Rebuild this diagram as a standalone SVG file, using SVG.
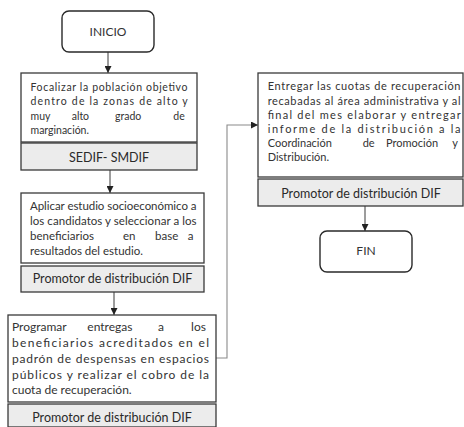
<svg xmlns="http://www.w3.org/2000/svg" width="464" height="427" viewBox="0 0 464 427">
<defs>
<style>
.bg{fill:#ffffff}
.box{fill:#ffffff;stroke:#3a3a3a;stroke-width:1.3}
.lab{fill:#ececec;stroke:#3a3a3a;stroke-width:1.3}
.term{fill:#ffffff;stroke:#2a2a2a;stroke-width:1.4}
.t{font-family:Lato,"Liberation Sans",sans-serif;fill:#333333}
.lt{font-family:Lato,"Liberation Sans",sans-serif;fill:#2a2a2a;font-size:12.5px;text-anchor:middle}
.c{fill:none;stroke:#3a3a3a;stroke-width:1}
.cg{fill:none;stroke:#8a8a8a;stroke-width:1.1}
</style>
<marker id="ah" viewBox="0 0 8 8" refX="8" refY="4" markerWidth="7" markerHeight="7" markerUnits="userSpaceOnUse" orient="auto">
<path d="M0,0 L8,4 L0,8 Z" fill="#222222"/>
</marker>
</defs>
<rect class="bg" x="0" y="0" width="464" height="427"/>

<g id="connectors">
<path class="c" d="M108,52 V73" marker-end="url(#ah)"/>
<path class="c" d="M110,170 V193" marker-end="url(#ah)"/>
<path class="c" d="M114,292 V315" marker-end="url(#ah)"/>
<path class="c" d="M365,206 V231" marker-end="url(#ah)"/>
<path class="cg" d="M216,358 H227 V125 H258" marker-end="url(#ah)"/>
</g>

<g id="inicio">
<rect class="term" x="62" y="11" width="92" height="41" rx="7"/>
<text class="t" x="108" y="35.5" font-size="12" text-anchor="middle">INICIO</text>
</g>

<g id="focalizar">
<rect class="box" x="21" y="73" width="176" height="69"/>
<text class="t" font-size="10.5">
<tspan x="30.5" y="90.5" textLength="157" lengthAdjust="spacing">Focalizar la población objetivo</tspan>
<tspan x="30.5" y="105" textLength="157" lengthAdjust="spacing">dentro  de la zonas de alto y</tspan>
<tspan x="30.5" y="119.5">muy</tspan><tspan x="71.7" y="119.5">alto</tspan><tspan x="115" y="119.5">grado</tspan><tspan x="187.5" y="119.5" text-anchor="end">de</tspan>
<tspan x="30.5" y="134">marginación.</tspan>
</text>
</g>

<g id="sedif">
<rect class="lab" x="21" y="143" width="176" height="27"/>
<text class="lt" x="109" y="161.5" font-size="11.5">SEDIF- SMDIF</text>
</g>

<g id="aplicar">
<rect class="box" x="21" y="193" width="183" height="70"/>
<text class="t" font-size="11.5">
<tspan x="30" y="209.5" textLength="166.5" lengthAdjust="spacing">Aplicar estudio socioeconómico a</tspan>
<tspan x="30" y="224.5" textLength="166.5" lengthAdjust="spacing">los candidatos y seleccionar a los</tspan>
<tspan x="30" y="239.5">beneficiarios</tspan><tspan x="123" y="239.5">en</tspan><tspan x="155" y="239.5">base</tspan><tspan x="196.5" y="239.5" text-anchor="end">a</tspan>
<tspan x="30" y="254.5">resultados del estudio.</tspan>
</text>
</g>

<g id="promotor1">
<rect class="lab" x="21" y="266" width="183" height="26"/>
<text class="lt" x="112.5" y="282.5">Promotor de distribución DIF</text>
</g>

<g id="programar">
<rect class="box" x="8" y="315" width="208" height="87"/>
<text class="t" font-size="12">
<tspan x="12" y="331">Programar</tspan><tspan x="87.3" y="331">entregas</tspan><tspan x="158" y="331">a</tspan><tspan x="209" y="331" text-anchor="end">los</tspan>
<tspan x="12" y="347" textLength="197" lengthAdjust="spacing">beneficiarios acreditados en el</tspan>
<tspan x="12" y="363" textLength="197" lengthAdjust="spacing">padrón de despensas en espacios</tspan>
<tspan x="12" y="378.5" textLength="197" lengthAdjust="spacing">públicos y realizar el cobro de la</tspan>
<tspan x="12" y="394">cuota de recuperación.</tspan>
</text>
</g>

<g id="promotor2">
<rect class="lab" x="8" y="404" width="208" height="23"/>
<text class="lt" x="112" y="421.5">Promotor de distribución DIF</text>
</g>

<g id="entregar">
<rect class="box" x="258" y="73" width="205" height="104"/>
<text class="t" font-size="11">
<tspan x="267.7" y="90" textLength="192.8" lengthAdjust="spacing">Entregar las cuotas de recuperación</tspan>
<tspan x="267.7" y="104.5" textLength="192.8" lengthAdjust="spacing">recabadas al área administrativa y al</tspan>
<tspan x="267.7" y="118.5" textLength="192.8" lengthAdjust="spacing">final del mes elaborar y entregar</tspan>
<tspan x="267.7" y="132.5" textLength="192.8" lengthAdjust="spacing">informe de la distribución a la</tspan>
<tspan x="267.7" y="147">Coordinación</tspan><tspan x="362.7" y="147">de</tspan><tspan x="386" y="147">Promoción</tspan><tspan x="460.5" y="147" text-anchor="end">y</tspan>
<tspan x="267.7" y="161">Distribución.</tspan>
</text>
</g>

<g id="promotor3">
<rect class="lab" x="258" y="179" width="205" height="27"/>
<text class="lt" x="361" y="197.5">Promotor de distribución DIF</text>
</g>

<g id="fin">
<rect class="term" x="320" y="231" width="92" height="41" rx="7"/>
<text class="t" x="366" y="255" font-size="12" text-anchor="middle">FIN</text>
</g>
</svg>
